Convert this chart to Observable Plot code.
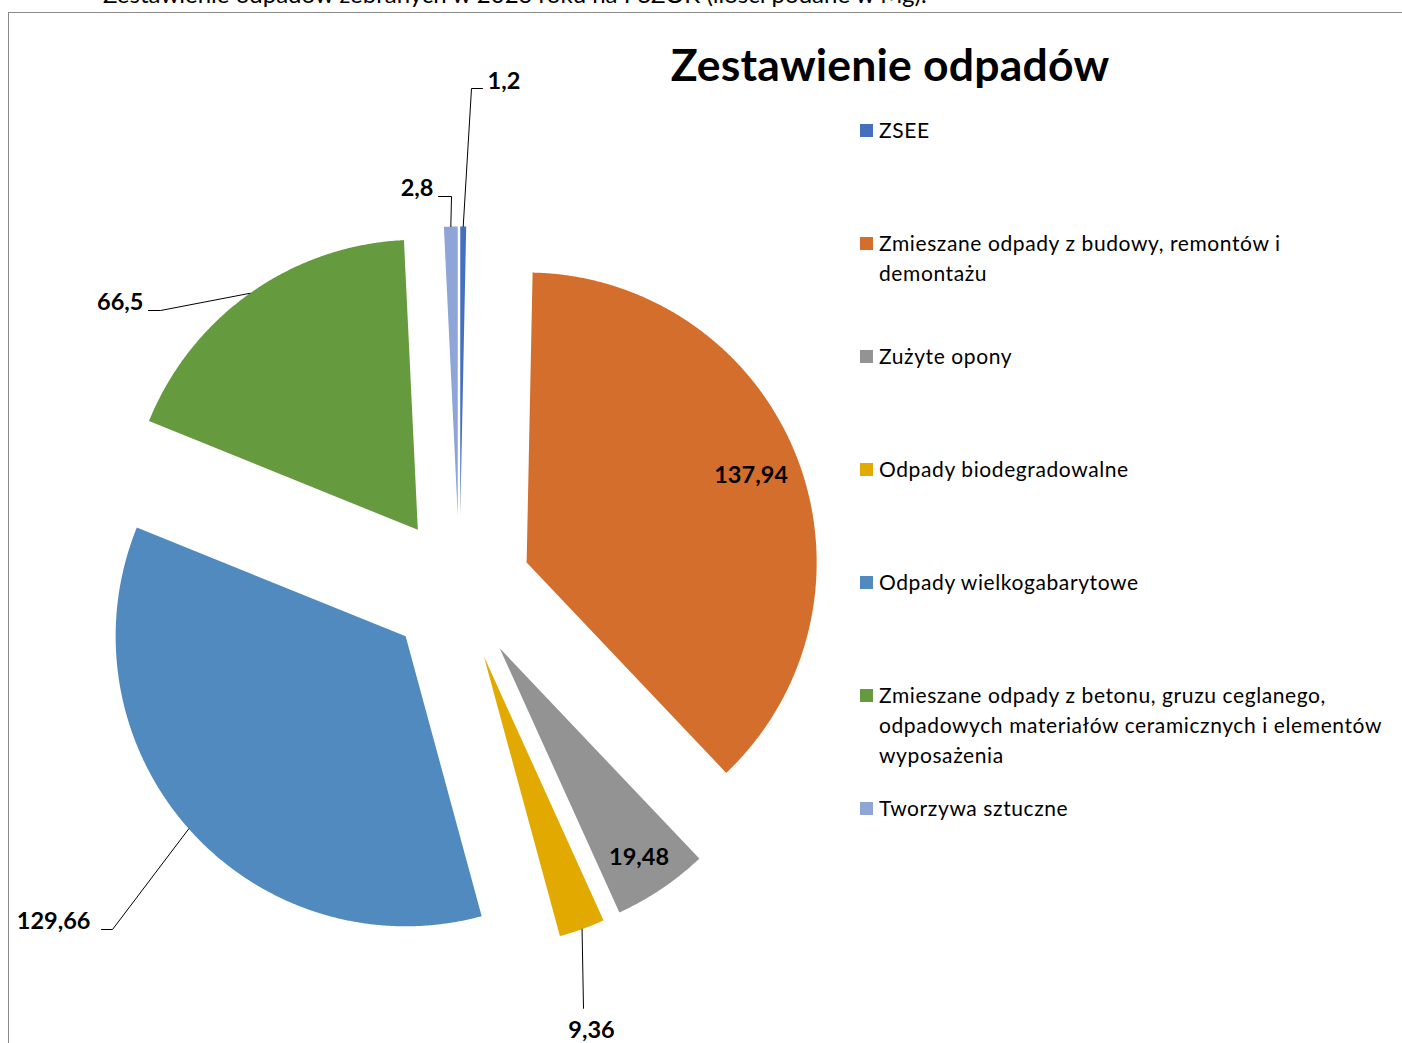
<!DOCTYPE html>
<html><head><meta charset="utf-8">
<script src="https://cdn.jsdelivr.net/npm/d3@7"></script>
<script src="https://cdn.jsdelivr.net/npm/@observablehq/plot@0.6"></script>
<style>
html,body{margin:0;padding:0;background:#fff;overflow:hidden;}
#wrap{position:relative;width:1402px;height:1043px;overflow:hidden;font-family:Lato,"Open Sans",sans-serif;color:#000;}
#caption{position:absolute;left:103px;top:-21px;font-size:24px;white-space:nowrap;}
#frame{position:absolute;left:8px;top:12px;width:1400px;height:1040px;border-left:1px solid #8a8a8a;border-top:1.5px solid #8a8a8a;}
#title{position:absolute;left:0;top:37px;width:1780px;text-align:center;font-weight:bold;font-size:44.5px;letter-spacing:0.2px;white-space:nowrap;}
#chart{position:absolute;left:0;top:0;}
.leg{position:absolute;left:860px;font-size:21px;letter-spacing:0.6px;line-height:30px;white-space:nowrap;}
.leg .sw{position:absolute;left:0;top:9px;width:13px;height:13px;}
.leg .tx{position:absolute;left:19px;top:0;}
</style></head><body>
<div id="wrap">
  <div id="caption">Zestawienie odpadów zebranych w 2023 roku na PSZOK (ilości podane w Mg).</div>
  <div id="frame"></div>
  <div id="chart"></div>
  <div id="title">Zestawienie odpadów</div>
  <div id="legend"></div>
</div>
<script>
// ---- data ----
const categories = [
  "ZSEE",
  "Zmieszane odpady z budowy, remontów i demontażu",
  "Zużyte opony",
  "Odpady biodegradowalne",
  "Odpady wielkogabarytowe",
  "Zmieszane odpady z betonu, gruzu ceglanego, odpadowych materiałów ceramicznych i elementów wyposażenia",
  "Tworzywa sztuczne"
];
const values = [1.2, 137.94, 19.48, 9.36, 129.66, 66.5, 2.8];
const valueLabels = ["1,2", "137,94", "19,48", "9,36", "129,66", "66,5", "2,8"];
const legendLines = [
  ["ZSEE"],
  ["Zmieszane odpady z budowy, remontów i", "demontażu"],
  ["Zużyte opony"],
  ["Odpady biodegradowalne"],
  ["Odpady wielkogabarytowe"],
  ["Zmieszane odpady z betonu, gruzu ceglanego,", "odpadowych materiałów ceramicznych i elementów", "wyposażenia"],
  ["Tworzywa sztuczne"]
];
const colors = ["#4470BE", "#D46E2C", "#939393", "#E2AA00", "#518ABF", "#659B3E", "#8FA5D8"];

// ---- layout (pixels) ----
const CX = 459, CY = 588, R = 290, EXPLODE = 72, INSIDE = 318;
// outside label layout: leader elbow, leader end, text position, anchor
const labelLayout = [
  {mode: "out", elbow: [471, 88], end: [482, 88], tx: 487, ty: 81, anchor: "start"},
  {mode: "in", dx: -5, dy: 2},
  {mode: "in", dx: 2, dy: 5},
  {mode: "out", elbow: [583, 1008], end: [583, 1008], tx: 591, ty: 1030, anchor: "middle"},
  {mode: "out", elbow: [112, 929], end: [101, 929], tx: 90, ty: 921, anchor: "end"},
  {mode: "out", elbow: [160, 310], end: [148, 310], tx: 143, ty: 302, anchor: "end"},
  {mode: "out", elbow: [451, 196], end: [438, 196], tx: 433, ty: 188, anchor: "end"}
];

// ---- build geometry from data ----
const arcs = d3.pie().sort(null).value(d => d).startAngle(0).endAngle(2 * Math.PI)(values);
const slicePts = [], leaderPts = [], labels = [];
arcs.forEach((p, i) => {
  const cat = categories[i];
  const mid = (p.startAngle + p.endAngle) / 2;
  const ox = CX + EXPLODE * Math.sin(mid), oy = CY - EXPLODE * Math.cos(mid);
  slicePts.push({cat, x: ox, y: oy});
  const n = Math.max(2, Math.ceil((p.endAngle - p.startAngle) / 0.004));
  for (let k = 0; k <= n; k++) {
    const a = p.startAngle + (p.endAngle - p.startAngle) * k / n;
    slicePts.push({cat, x: ox + R * Math.sin(a), y: oy - R * Math.cos(a)});
  }
  slicePts.push({cat, x: ox, y: oy});
  const L = labelLayout[i];
  if (L.mode === "in") {
    labels.push({text: valueLabels[i], x: CX + INSIDE * Math.sin(mid) + L.dx, y: CY - INSIDE * Math.cos(mid) + L.dy, anchor: "middle"});
  } else {
    const ax = ox + R * Math.sin(mid), ay = oy - R * Math.cos(mid);
    leaderPts.push({cat, x: ax, y: ay});
    leaderPts.push({cat, x: L.elbow[0], y: L.elbow[1]});
    leaderPts.push({cat, x: L.end[0], y: L.end[1]});
    labels.push({text: valueLabels[i], x: L.tx, y: L.ty, anchor: L.anchor});
  }
});

const chart = Plot.plot({
  width: 1402, height: 1043,
  margin: 0,
  style: {background: "transparent", fontFamily: "Lato, 'Open Sans', sans-serif", overflow: "visible"},
  x: {domain: [0, 1402], range: [0, 1402], axis: null},
  y: {domain: [0, 1043], range: [0, 1043], axis: null},
  color: {domain: categories, range: colors},
  marks: [
    Plot.line(slicePts, {x: "x", y: "y", z: "cat", fill: "cat", stroke: "none", curve: "linear"}),
    Plot.line(leaderPts, {x: "x", y: "y", z: "cat", stroke: "#000", strokeWidth: 1}),
    ...["start", "middle", "end"].map(a =>
      Plot.text(labels.filter(d => d.anchor === a), {x: "x", y: "y", text: "text", textAnchor: a, fontSize: 23.5, fontWeight: "bold", fill: "#000"}))
  ]
});
document.getElementById("chart").appendChild(chart);

// ---- legend ----
const legend = document.getElementById("legend");
categories.forEach((c, i) => {
  const item = document.createElement("div");
  item.className = "leg";
  item.style.top = (130 + i * 113 - 15) + "px";
  const sw = document.createElement("div");
  sw.className = "sw";
  sw.style.background = colors[i];
  const tx = document.createElement("div");
  tx.className = "tx";
  tx.innerHTML = legendLines[i].join("<br>");
  item.appendChild(sw); item.appendChild(tx);
  legend.appendChild(item);
});
</script>
</body></html>
